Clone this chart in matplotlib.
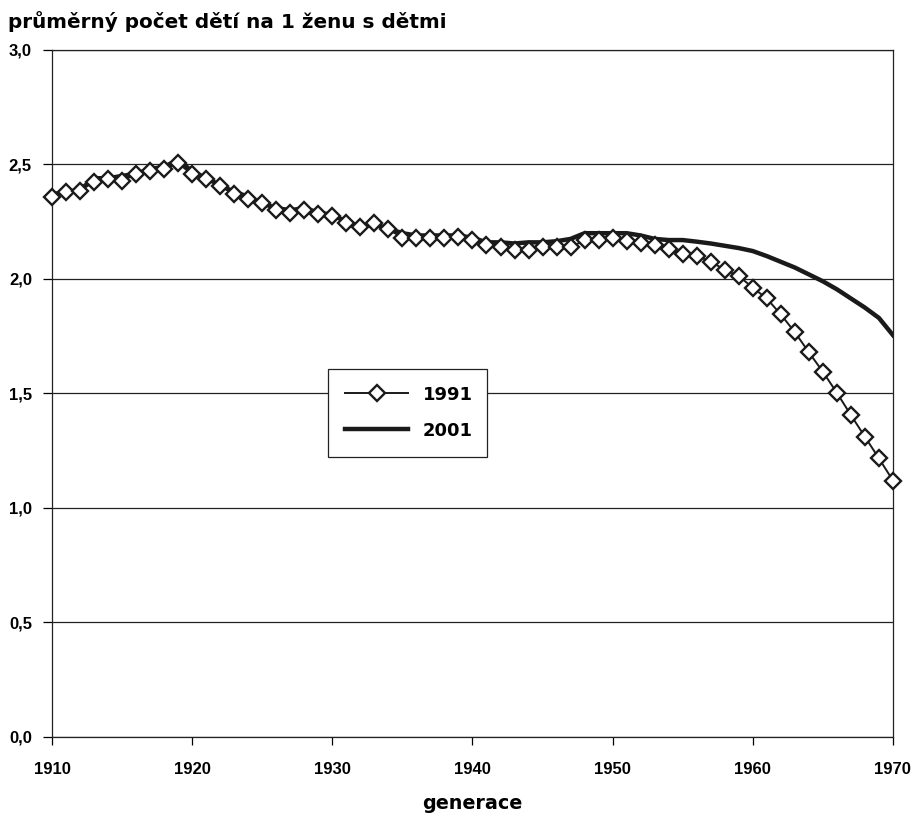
import numpy as np
import matplotlib.pyplot as plt

years = list(range(1910, 1971))

# 1991 census: average number of children per woman with children
vals_1991 = [2.36, 2.38, 2.385, 2.425, 2.435, 2.43, 2.457, 2.473, 2.48, 2.505,
             2.457, 2.435, 2.406, 2.37, 2.35, 2.33, 2.30, 2.29, 2.30, 2.285,
             2.275, 2.246, 2.225, 2.243, 2.217, 2.18, 2.177, 2.18, 2.18, 2.183,
             2.17, 2.148, 2.138, 2.127, 2.127, 2.138, 2.138, 2.138, 2.17, 2.17,
             2.177, 2.167, 2.155, 2.148, 2.13, 2.11, 2.10, 2.076, 2.04, 2.013,
             1.962, 1.915, 1.845, 1.768, 1.68, 1.595, 1.503, 1.406, 1.311, 1.217,
             1.12]

# 2001 census
vals_2001 = [2.37, 2.38, 2.39, 2.44, 2.44, 2.45, 2.46, 2.48, 2.49, 2.52,
             2.47, 2.44, 2.41, 2.38, 2.36, 2.33, 2.31, 2.30, 2.31, 2.29,
             2.28, 2.25, 2.23, 2.24, 2.22, 2.20, 2.19, 2.19, 2.19, 2.19,
             2.18, 2.16, 2.16, 2.155, 2.16, 2.16, 2.165, 2.175, 2.20, 2.20,
             2.20, 2.20, 2.19, 2.175, 2.17, 2.17, 2.163, 2.155, 2.145, 2.135,
             2.122, 2.10, 2.075, 2.05, 2.02, 1.99, 1.955, 1.915, 1.875, 1.83,
             1.755]

title = "průměrný počet dětí na 1 ženu s dětmi"
xlabel = "generace"

fig = plt.figure(figsize=(9.13, 8.14), dpi=100)
ax = fig.add_axes([0.057, 0.0946, 0.921, 0.844])

ax.plot(years, vals_2001, color='#1a1a1a', lw=3.2, label='2001', zorder=2)
ax.plot(years, vals_1991, color='#1a1a1a', lw=1.4, marker='D', markersize=8,
        markerfacecolor='white', markeredgecolor='#1a1a1a', markeredgewidth=1.7,
        label='1991', zorder=3, clip_on=False)

ax.set_xlim(1910, 1970)
ax.set_ylim(0, 3.0)
ax.set_xticks(range(1910, 1971, 10))
yt = np.arange(0, 3.01, 0.5)
ax.set_yticks(yt)
ax.set_yticklabels([f"{v:.1f}".replace('.', ',') for v in yt])
ax.grid(axis='y', color='#222222', lw=0.9)
ax.set_axisbelow(True)
for s in ax.spines.values():
    s.set_color('#222222')
    s.set_linewidth(0.9)

ax.tick_params(axis='x', direction='out', length=6, width=0.9, pad=12)
ax.tick_params(axis='y', direction='out', length=6.5, width=0.9, pad=8)
for lab in ax.get_xticklabels() + ax.get_yticklabels():
    lab.set_fontfamily('Liberation Sans')
    lab.set_fontweight('bold')
    lab.set_fontsize(12)

ax.set_xlabel(xlabel, fontsize=13.8, fontweight='bold', family='DejaVu Sans', labelpad=12)
fig.text(0.009, 0.973, title, fontsize=14.4, fontweight='bold', family='DejaVu Sans',
         va='center', ha='left')

handles, labels = ax.get_legend_handles_labels()
leg = ax.legend(handles[::-1], labels[::-1], loc='lower left',
                bbox_to_anchor=(0.328, 0.4076, 0.189, 0.131), mode='expand',
                borderaxespad=0, frameon=True, fancybox=False, edgecolor='#222222',
                framealpha=1, handlelength=3.5, handletextpad=0.8,
                borderpad=0.95, labelspacing=1.0,
                prop={'family': 'DejaVu Sans', 'weight': 'bold', 'size': 13})
leg.get_frame().set_linewidth(0.9)

fig.savefig('out.png', dpi=100)
